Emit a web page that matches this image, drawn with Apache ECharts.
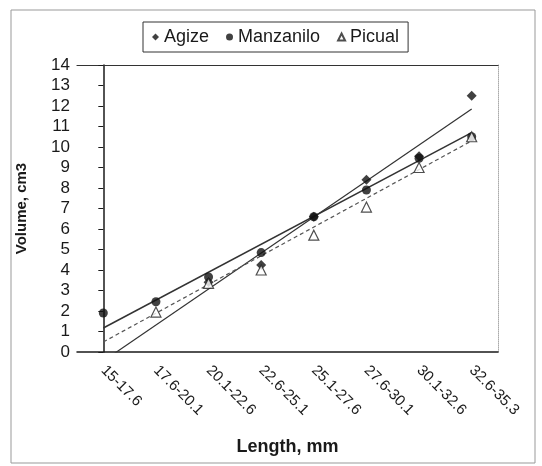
<!DOCTYPE html>
<html>
<head>
<meta charset="utf-8">
<script src="https://cdn.jsdelivr.net/npm/echarts@6/dist/echarts.min.js"></script>
<style>
  html, body { margin: 0; padding: 0; background: #fff; }
  #chart { width: 542px; height: 466px; }
</style>
</head>
<body>
<div id="chart"></div>
<script>
// length classes (mm)
var lengthClasses = ['15-17.6', '17.6-20.1', '20.1-22.6', '22.6-25.1', '25.1-27.6', '27.6-30.1', '30.1-32.6', '32.6-35.3']

// volume, cm3
var agize = [null, null, 3.4, 4.25, 6.6, 8.4, 9.55, 12.5]
var manzanilo = [1.9, 2.45, 3.66, 4.85, 6.6, 7.9, 9.45, 10.5]
var picual = [null, 1.95, 3.35, 4.0, 5.7, 7.07, 9.0, 10.5]

// trend lines: value at first and last class
var agizeTrend = [-0.44, 11.85]
var manzaniloTrend = [1.17, 10.7]
var picualTrend = [0.49, 10.3]

var font = 'Liberation Sans, Arial, sans-serif'
var ink = '#1a1a1a'

function trendData(t) {
  return [[0, t[0]], [lengthClasses.length - 1, t[1]]]
}

var chart = echarts.init(document.getElementById('chart'))

var option = {
  animation: false,
  backgroundColor: '#fff',
  textStyle: { fontFamily: font, color: ink },
  graphic: [{
    type: 'rect',
    shape: { x: 11, y: 10, width: 524, height: 453 },
    style: { fill: 'none', stroke: '#999', lineWidth: 1 },
    silent: true
  }],
  legend: {
    data: ['Agize', 'Manzanilo', 'Picual'],
    left: 143,
    top: 22,
    padding: [6, 9, 6, 9],
    itemWidth: 7,
    itemHeight: 7,
    itemGap: 17,
    borderColor: '#333',
    borderWidth: 1,
    textStyle: { fontFamily: font, fontSize: 18, color: ink, padding: [0, 0, 0, 0] }
  },
  grid: { left: 77, right: 44, top: 65, bottom: 114 },
  xAxis: [{
    type: 'category',
    data: lengthClasses,
    boundaryGap: true,
    name: 'Length, mm',
    nameLocation: 'middle',
    nameGap: 86,
    nameTextStyle: { fontFamily: font, fontSize: 18, fontWeight: 'bold', color: ink },
    axisLine: { lineStyle: { color: ink, width: 1.5 } },
    axisTick: { length: 3, lineStyle: { color: ink } },
    axisLabel: { rotate: -45, margin: 16, fontFamily: font, fontSize: 15, color: ink }
  }, {
    // hidden value axis used for the trend lines; drawn on top as frame
    type: 'value',
    position: 'top',
    min: -0.5,
    max: lengthClasses.length - 0.5,
    axisLine: { show: true, onZero: false, lineStyle: { color: '#333', width: 1.2 } },
    axisTick: { show: false },
    axisLabel: { show: false },
    splitLine: { show: false }
  }],
  yAxis: [{
    type: 'value',
    min: 0,
    max: 14,
    interval: 1,
    name: 'Volume, cm3',
    nameLocation: 'middle',
    nameGap: 48,
    nameTextStyle: { fontFamily: font, fontSize: 15, fontWeight: 'bold', color: ink },
    axisLine: { show: true, lineStyle: { color: ink, width: 1.5 } },
    axisTick: { show: true, length: 5, lineStyle: { color: ink } },
    axisLabel: { fontFamily: font, fontSize: 17, color: ink, margin: 7 },
    splitLine: { show: false }
  }, {
    type: 'value',
    position: 'right',
    min: 0,
    max: 14,
    axisLine: { show: true, lineStyle: { color: '#aaa', width: 1, type: 'dotted' } },
    axisTick: { show: false },
    axisLabel: { show: false },
    splitLine: { show: false }
  }],
  series: [{
    name: 'Agize trend',
    type: 'line',
    xAxisIndex: 1,
    data: trendData(agizeTrend),
    symbol: 'none',
    lineStyle: { color: '#333', width: 1.2 },
    z: 1
  }, {
    name: 'Manzanilo trend',
    type: 'line',
    xAxisIndex: 1,
    data: trendData(manzaniloTrend),
    symbol: 'none',
    lineStyle: { color: '#333', width: 1.5 },
    z: 1
  }, {
    name: 'Picual trend',
    type: 'line',
    xAxisIndex: 1,
    data: trendData(picualTrend),
    symbol: 'none',
    lineStyle: { color: '#555', width: 1.2, type: [4, 3] },
    z: 1
  }, {
    name: 'Agize',
    type: 'scatter',
    data: agize,
    symbol: 'diamond',
    symbolSize: 10,
    itemStyle: { color: '#111' },
    z: 3
  }, {
    name: 'Manzanilo',
    type: 'scatter',
    data: manzanilo,
    symbol: 'circle',
    symbolSize: 9,
    itemStyle: { color: '#111' },
    z: 3
  }, {
    name: 'Picual',
    type: 'scatter',
    data: picual,
    symbol: 'triangle',
    symbolSize: 10,
    itemStyle: { color: '#fff', borderColor: '#222', borderWidth: 1.2 },
    z: 4
  }]
}

chart.setOption(option)
</script>
</body>
</html>
